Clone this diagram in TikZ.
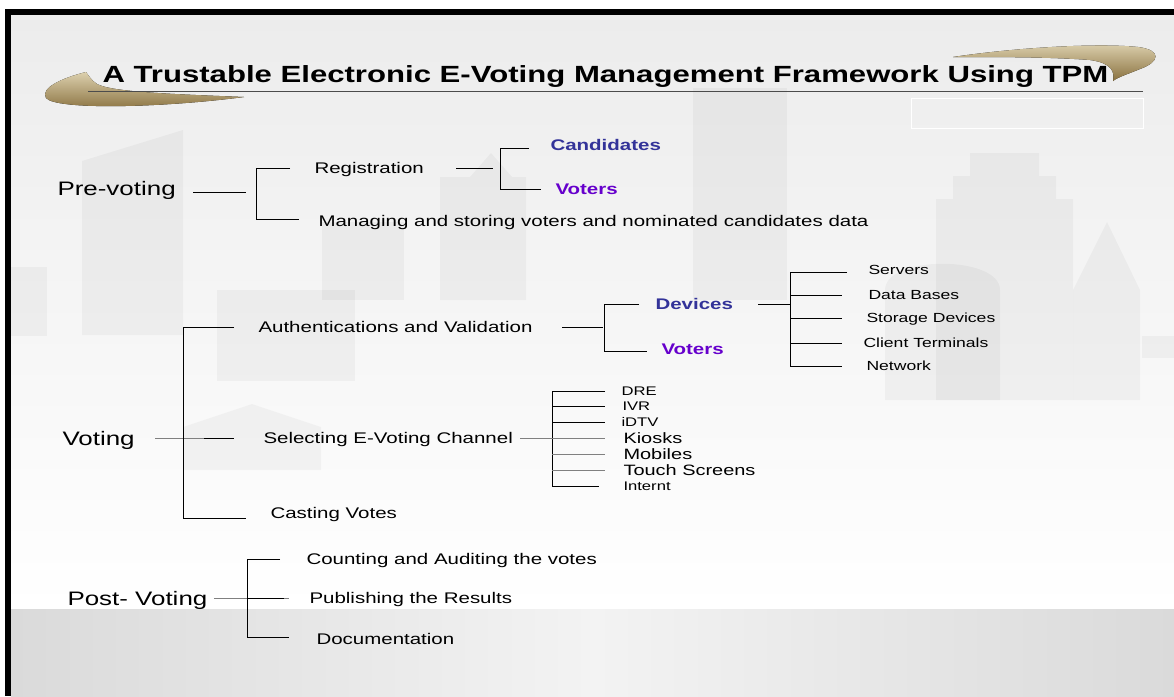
\documentclass[tikz,border=0pt]{standalone}
\usepackage{fontspec}
\setmainfont{Liberation Sans}[FakeStretch=1.33]
\definecolor{pickblue}{HTML}{333399}
\definecolor{pickpurple}{HTML}{6600CC}
\definecolor{slidetop}{HTML}{ECECEC}
\definecolor{bandedge}{HTML}{DADADA}
\definecolor{bandmid}{HTML}{F3F3F3}
\definecolor{swooshlight}{HTML}{DCD0AE}
\definecolor{swooshdark}{HTML}{8A7240}

\begin{document}
\begin{tikzpicture}[x=1pt,y=-1pt,line width=1pt,
  every node/.style={inner sep=0pt,anchor=west,text depth=0pt},
  phase/.style={font=\fontsize{19.5}{22}\selectfont,text height=14pt},
  task/.style={font=\fontsize{15.4}{18}\selectfont,text height=11.1pt},
  pick/.style={font=\fontsize{15.4}{18}\selectfont\bfseries,text height=11.1pt},
  item/.style={font=\fontsize{13.2}{16}\selectfont,text height=9.5pt},
  chan/.style={font=\fontsize{15}{17}\selectfont,text height=10.8pt},
  chansmall/.style={font=\fontsize{12.5}{15}\selectfont,text height=9pt},
  softline/.style={draw=black!50},
  bldg/.style={fill=black,fill opacity=0.035}]
\useasboundingbox (0,0) rectangle (1174,696);

% slide background
\fill[white] (0,0) rectangle (1174,696);
\fill[black] (5,9) rectangle (1174,696);
\fill[top color=slidetop,bottom color=white] (11,15) rectangle (1174,609);
\fill[left color=bandedge,right color=bandedge,middle color=bandmid] (11,609) rectangle (1174,696);

% faint skyline
\fill[bldg] (82,335) -- (82,161) -- (183,130) -- (183,335) -- cycle;
\fill[bldg] (11,267) rectangle (47,336);
\fill[bldg] (217,290) rectangle (355,381);
\fill[bldg] (322,222) rectangle (404,300);
\fill[bldg] (440,300) -- (440,177) -- (470,177) -- (491,153) -- (512,177) -- (526,177) -- (526,300) -- cycle;
\fill[bldg] (693,88) rectangle (787,300);
\fill[bldg] (970,153) -- (1039,153) -- (1039,176) -- (1056,176) -- (1056,199) -- (1073,199)
  -- (1073,400) -- (936,400) -- (936,199) -- (953,199) -- (953,176) -- (970,176) -- cycle;
\fill[bldg] (1073,290) -- (1107,222) -- (1140,290) -- (1140,400) -- (1073,400) -- cycle;
\fill[bldg] (885,400) -- (885,290) .. controls (885,255) and (1000,255) .. (1000,290) -- (1000,400) -- cycle;
\fill[bldg] (183,470) -- (183,427) -- (252,404) -- (321,427) -- (321,470) -- cycle;
\fill[bldg] (1142,336) rectangle (1174,358);
\draw[white,line width=1pt] (911,98) rectangle (1143,128);

% title with swooshes
\fill[top color=swooshlight,bottom color=swooshdark]
  (86,72) .. controls (62,78) and (40,88) .. (46,98)
  .. controls (56,110) and (160,108) .. (244,97)
  .. controls (170,94) and (112,92) .. (97,84)
  .. controls (91,80) and (89,76) .. (86,72) -- cycle;
\fill[top color=swooshlight,bottom color=swooshdark]
  (953,57) .. controls (1020,47) and (1100,43) .. (1138,47)
  .. controls (1162,50) and (1160,62) .. (1140,69)
  .. controls (1128,74) and (1118,77) .. (1113,81)
  .. controls (1115,72) and (1112,63) .. (1090,60)
  .. controls (1050,57) and (1000,57) .. (953,57) -- cycle;
\node[font=\fontsize{23.4}{28}\selectfont\bfseries,text height=16.8pt] (title) at (102,74)
  {A Trustable Electronic E-Voting Management Framework Using TPM};
\draw[black!70] (88,91) -- (1143,91);

% pre-voting
\node[phase] (pre) at (57,188) {Pre-voting};
\node[task] (reg) at (314,168) {Registration};
\node[task] (mng) at (318,221) {Managing and storing voters and nominated candidates data};
\node[pick,text=pickblue] (cand) at (550,145) {Candidates};
\node[pick,text=pickpurple] (vot1) at (555,189) {Voters};
\draw ([xshift=17pt,yshift=-4pt]pre.east) -- ++(53,0);
\draw ([xshift=-24pt]reg.west) -- ++(-34,0) |- ([xshift=-19pt,yshift=2pt]mng.west);
\draw ([xshift=32pt]reg.east) -- ++(37,0);
\draw ([xshift=-21pt,yshift=-3pt]cand.west) -- ++(-29,0) |- ([xshift=-14pt]vot1.west);

% voting
\node[phase] (vote) at (62,438) {Voting};
\node[task] (auth) at (258,327) {Authentications and Validation};
\node[task] (sel) at (263,438) {Selecting E-Voting Channel};
\node[task] (cast) at (270,513) {Casting Votes};
\draw[softline] ([xshift=20pt]vote.east) -- ([xshift=-29pt]sel.west);
\draw ([xshift=-59pt]sel.west) -- ([xshift=-29pt]sel.west);
\draw ([xshift=-24pt]auth.west) -- ++(-51,0) |- ([xshift=-24pt,yshift=-5pt]cast.west);

\node[pick,text=pickblue] (dev) at (655,304) {Devices};
\node[pick,text=pickpurple] (vot2) at (661,349) {Voters};
\draw ([xshift=29pt]auth.east) -- ++(41,0);
\draw ([xshift=-16pt]dev.west) -- ++(-35,0) |- ([xshift=-14pt,yshift=-2pt]vot2.west);
\draw ([xshift=25pt]dev.east) -- ++(32,0) coordinate (devfork);

\node[item] (srv) at (868,270) {Servers};
\node[item] (db) at (868,295) {Data Bases};
\node[item] (sto) at (866,318) {Storage Devices};
\node[item] (cli) at (863,343) {Client Terminals};
\node[item] (net) at (866,366) {Network};
\draw ([xshift=-21pt,yshift=-2pt]srv.west) -| (devfork |- net.west) -- ([xshift=-24pt]net.west);
\foreach \n/\gap in {db/26,sto/24,cli/21}
  \draw (devfork |- \n.west) -- ([xshift=-\gap]\n.west);

\node[chansmall] (dre) at (621,391) {DRE};
\node[chansmall] (ivr) at (622,406) {IVR};
\node[chansmall] (idtv) at (621,422) {iDTV};
\node[chan] (kio) at (623,438) {Kiosks};
\node[chan] (mob) at (623,454) {Mobiles};
\node[chan] (tch) at (623,470) {Touch Screens};
\node[chansmall] (inet) at (623,486) {Internt};
\draw[softline] ([xshift=7pt]sel.east) -- ++(32,0) coordinate (selfork);
\draw ([xshift=-16pt]dre.west) -| (selfork |- inet.west) -- ([xshift=-24pt]inet.west);
\foreach \n in {ivr,idtv}
  \draw (selfork |- \n.west) -- ++(53,0);
\foreach \n in {kio,mob,tch}
  \draw[softline] (selfork |- \n.west) -- ++(53,0);

% post-voting
\node[phase] (post) at (67,598) {Post- Voting};
\node[task] (cnt) at (306,559) {Counting and Auditing the votes};
\node[task] (pub) at (309,598) {Publishing the Results};
\node[task] (doc) at (316,639) {Documentation};
\draw[softline] ([xshift=6pt]post.east) -- ([xshift=-20pt]pub.west);
\draw ([xshift=-26pt]cnt.west) -- ++(-33,0) |- ([xshift=-27pt,yshift=2pt]doc.west);
\draw ([xshift=-62pt]pub.west) -- ([xshift=-25pt]pub.west);
\end{tikzpicture}
\end{document}
